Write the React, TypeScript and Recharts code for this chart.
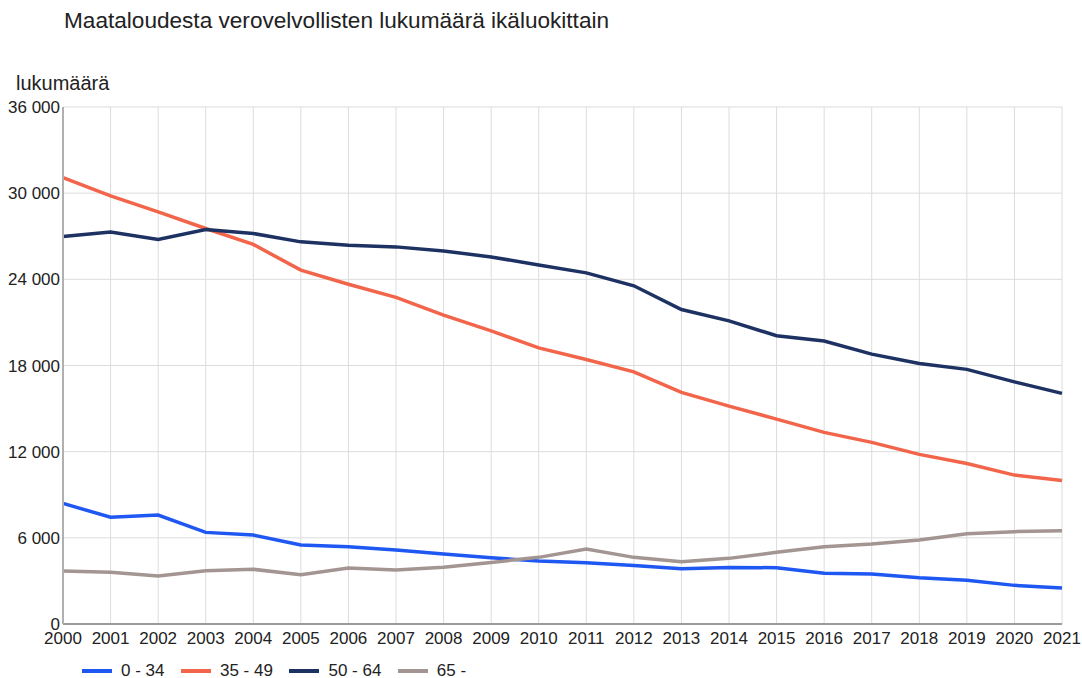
import { LineChart, Line, XAxis, YAxis, CartesianGrid } from "recharts";

const years = [
  "2000", "2001", "2002", "2003", "2004", "2005", "2006", "2007", "2008", "2009", "2010",
  "2011", "2012", "2013", "2014", "2015", "2016", "2017", "2018", "2019", "2020", "2021",
];

// 0 - 34
const young = [
  8400, 7430, 7590, 6380, 6190, 5500, 5380, 5150, 4870, 4610, 4380,
  4270, 4080, 3850, 3940, 3920, 3530, 3480, 3220, 3040, 2690, 2500,
];
// 35 - 49
const middle = [
  31090, 29810, 28700, 27540, 26430, 24640, 23660, 22740, 21510, 20410, 19230,
  18420, 17560, 16130, 15170, 14270, 13340, 12650, 11810, 11180, 10370, 10000,
];
// 50 - 64
const senior = [
  26980, 27300, 26770, 27470, 27190, 26610, 26380, 26260, 25980, 25560, 25000,
  24450, 23550, 21900, 21110, 20070, 19700, 18790, 18140, 17730, 16860, 16060,
];
// 65 -
const elderly = [
  3690, 3600, 3340, 3710, 3810, 3430, 3900, 3760, 3950, 4290, 4640,
  5220, 4640, 4340, 4570, 4990, 5380, 5570, 5850, 6290, 6430, 6500,
];

const yTicks = [0, 6000, 12000, 18000, 24000, 30000, 36000];

const series = [
  { key: "a", name: "0 - 34", color: "#1f57f2", values: young },
  { key: "b", name: "35 - 49", color: "#f2654a", values: middle },
  { key: "c", name: "50 - 64", color: "#1d3163", values: senior },
  { key: "d", name: "65 -", color: "#a39591", values: elderly },
];

const data = years.map((year, i) => {
  const row: Record<string, string | number> = { year };
  series.forEach((s) => {
    row[s.key] = s.values[i];
  });
  return row;
});

const fmt = (v: number) => v.toLocaleString("en-US").replace(/,/g, " ");

const FONT = "'Liberation Sans', Arial, sans-serif";

export default function App() {
  return (
    <div
      style={{
        position: "absolute",
        left: 0,
        top: 0,
        width: 1082,
        height: 678,
        background: "#fff",
        fontFamily: FONT,
        color: "#222",
      }}
    >
      <div style={{ position: "absolute", left: 64, top: 8, fontSize: 22.6, whiteSpace: "nowrap" }}>
        Maataloudesta verovelvollisten lukumäärä ikäluokittain
      </div>
      <div style={{ position: "absolute", left: 16, top: 72, fontSize: 20 }}>lukumäärä</div>

      <LineChart
        width={1082}
        height={678}
        data={data}
        margin={{ top: 107, right: 20, left: 0, bottom: 24 }}
      >
        <CartesianGrid stroke="#dcdcdc" strokeWidth={1} />
        <XAxis
          dataKey="year"
          height={30}
          interval={0}
          tickLine={false}
          axisLine={{ stroke: "#9a9a9a", strokeWidth: 2 }}
          tick={{ fill: "#222", fontSize: 17, fontFamily: FONT }}
          tickMargin={2}
        />
        <YAxis
          width={63}
          domain={[0, 36000]}
          ticks={yTicks}
          tickFormatter={fmt}
          tickLine={false}
          tickSize={0}
          axisLine={{ stroke: "#b0b0b0", strokeWidth: 2 }}
          tick={{ fill: "#222", fontSize: 17, fontFamily: FONT }}
          tickMargin={3}
        />
        {series.map((s) => (
          <Line
            key={s.key}
            dataKey={s.key}
            name={s.name}
            stroke={s.color}
            strokeWidth={3.5}
            dot={false}
            isAnimationActive={false}
          />
        ))}
      </LineChart>

      <div
        style={{
          position: "absolute",
          left: 82,
          top: 661,
          display: "flex",
          alignItems: "center",
          fontSize: 17,
        }}
      >
        {series.map((s) => (
          <div key={s.key} style={{ display: "flex", alignItems: "center", marginRight: 16.5 }}>
            <span
              style={{
                display: "inline-block",
                width: 30,
                height: 4,
                background: s.color,
                marginRight: 9,
              }}
            />
            <span>{s.name}</span>
          </div>
        ))}
      </div>
    </div>
  );
}
